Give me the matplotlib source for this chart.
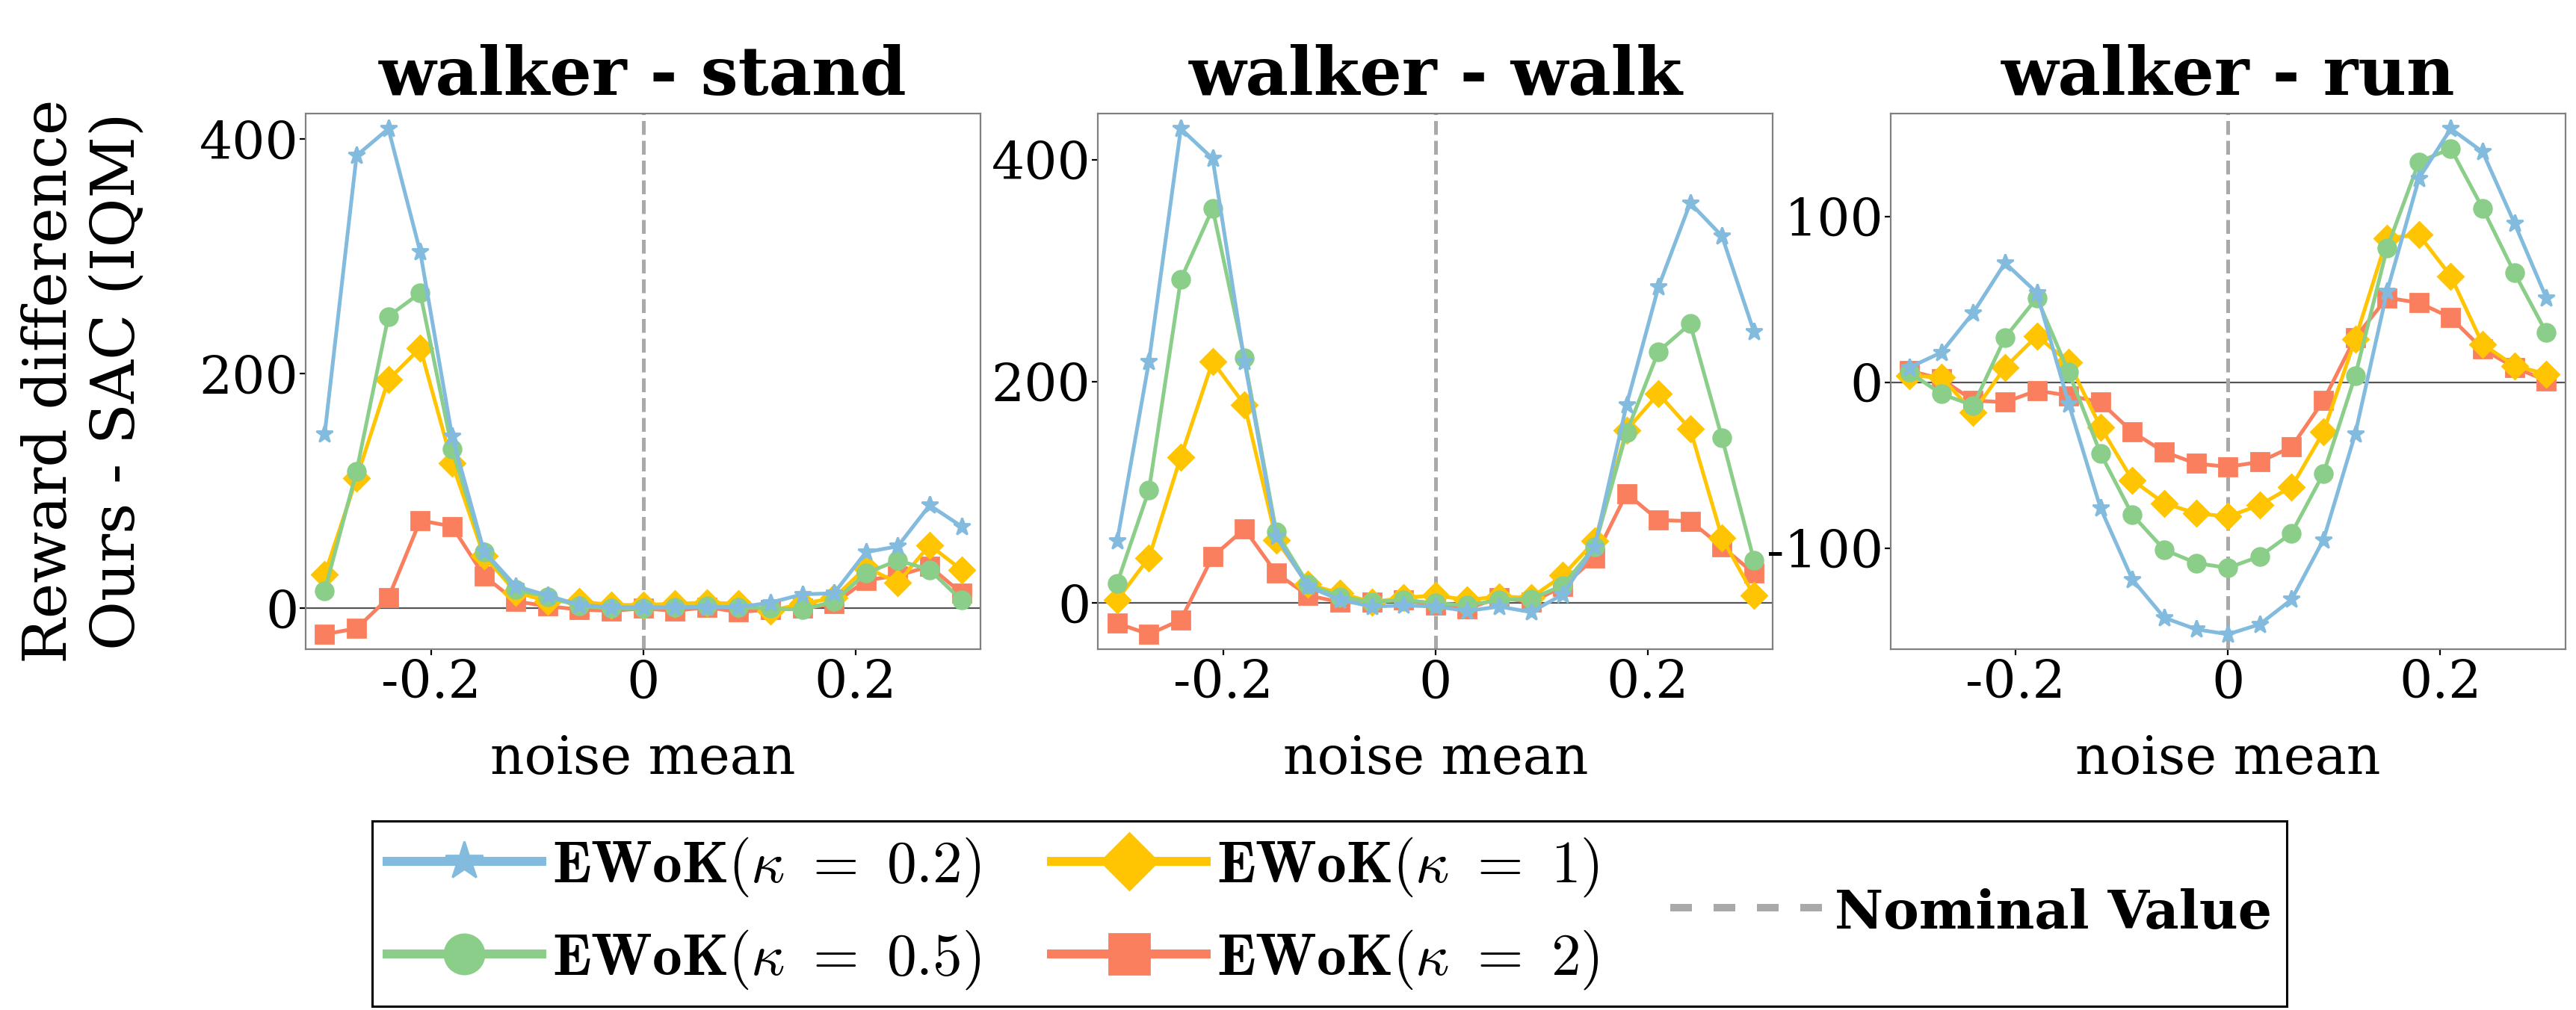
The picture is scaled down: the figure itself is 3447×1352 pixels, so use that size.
import matplotlib.pyplot as plt
from matplotlib.lines import Line2D

plt.rcParams['font.family'] = 'DejaVu Serif'
plt.rcParams['mathtext.fontset'] = 'cm'
plt.rcParams['axes.unicode_minus'] = False

noise_mean = [-0.30, -0.27, -0.24, -0.21, -0.18, -0.15, -0.12, -0.09, -0.06, -0.03, 0.0,
              0.03, 0.06, 0.09, 0.12, 0.15, 0.18, 0.21, 0.24, 0.27, 0.30]

tasks = ['walker - stand', 'walker - walk', 'walker - run']

# reward difference (IQM), one list per kappa
stand_k02 = [149, 386, 409, 304, 147, 49, 19, 11, 3, 1, 1, 1, 1, 1, 5, 12, 13, 48, 53, 88, 70]
stand_k05 = [15, 117, 249, 269, 136, 48, 16, 10, 2, 0, 0, 1, 2, 1, 0, -1, 6, 30, 41, 33, 7]
stand_k1 = [29, 111, 195, 222, 124, 45, 14, 6, 6, 3, 3, 4, 5, 4, -2, 4, 9, 35, 22, 54, 33]
stand_k2 = [-22, -17, 9, 75, 70, 28, 6, 2, -1, -2, 0, -2, 1, -3, -1, 0, 4, 24, 28, 36, 13]

walk_k02 = [56, 218, 428, 401, 218, 60, 15, 3, -3, -2, -3, -7, -3, -8, 8, 51, 179, 285, 361, 331, 245]
walk_k05 = [18, 102, 292, 356, 221, 64, 17, 6, 1, 3, 0, -2, 3, 4, 16, 51, 154, 227, 252, 149, 39]
walk_k1 = [3, 41, 132, 218, 179, 57, 17, 9, 1, 5, 7, 3, 6, 5, 25, 56, 156, 189, 157, 59, 7]
walk_k2 = [-18, -28, -15, 42, 67, 27, 7, 1, 1, 3, -2, -5, 5, 1, 15, 41, 99, 75, 74, 51, 27]

run_k02 = [9, 18, 42, 72, 54, -13, -76, -119, -142, -149, -152, -146, -131, -95, -31, 55, 123, 153, 139, 96, 51]
run_k05 = [6, -7, -14, 27, 51, 6, -43, -80, -101, -109, -112, -105, -91, -55, 4, 81, 133, 141, 105, 66, 30]
run_k1 = [4, 3, -18, 9, 28, 12, -27, -59, -73, -79, -81, -74, -63, -30, 26, 87, 89, 64, 23, 10, 5]
run_k2 = [7, 2, -11, -12, -5, -8, -12, -30, -42, -49, -51, -48, -39, -11, 27, 51, 48, 39, 20, 9, 1]

panel_data = [
    [stand_k02, stand_k05, stand_k1, stand_k2],
    [walk_k02, walk_k05, walk_k1, walk_k2],
    [run_k02, run_k05, run_k1, run_k2],
]
yticks = [[0, 200, 400], [0, 200, 400], [-100, 0, 100]]

labels = [r'$\mathbf{EWoK}(\kappa\ =\ 0.2)$', r'$\mathbf{EWoK}(\kappa\ =\ 0.5)$',
          r'$\mathbf{EWoK}(\kappa\ =\ 1)$', r'$\mathbf{EWoK}(\kappa\ =\ 2)$']
nominal_label = 'Nominal Value'
colors = ['#82bbdd', '#8ace89', '#ffc502', '#fa7f5f']
markers = ['*', 'o', 'D', 's']

fig = plt.figure(figsize=(17.24, 6.76), dpi=200)
axes = fig.subplots(1, 3)
fig.subplots_adjust(left=0.1186, right=0.9956, bottom=0.357, top=0.8876, wspace=0.174)

handles = []
for p, ax in enumerate(axes):
    ax.axhline(0, color='#555555', lw=0.8, zorder=1.5)
    ax.axvline(0, color='darkgray', ls='--', lw=1.8, zorder=2)
    for i in range(4):
        ln, = ax.plot(noise_mean, panel_data[p][i], color=colors[i], marker=markers[i],
                      markersize=8.5, lw=1.8, zorder=6 - i)
        if p == 0:
            handles.append(ln)
    ax.margins(0.03)
    ax.set_title(tasks[p], fontsize=32, fontweight='bold', pad=9)
    ax.set_xticks([-0.2, 0, 0.2], ['-0.2', '0', '0.2'])
    ax.set_yticks(yticks[p])
    ax.tick_params(axis='both', labelsize=25, length=3, width=0.8)
    ax.tick_params(axis='x', pad=1.5)
    ax.tick_params(axis='y', pad=0.5)
    ax.set_xlabel('noise mean', fontsize=25.5, labelpad=12)
    for s in ax.spines.values():
        s.set_color('#808080')
        s.set_linewidth(0.8)

axes[0].set_ylabel('Reward difference\nOurs - SAC (IQM)', fontsize=29)
axes[0].yaxis.set_label_coords(-0.235, 0.5)

handles.append(Line2D([], [], color='darkgray', ls='--', lw=3.6))
leg = fig.legend(handles, labels + [nominal_label], loc='center', bbox_to_anchor=(0.516, 0.0955),
                 ncol=3, prop={'size': 28.5}, frameon=True, fancybox=False,
                 edgecolor='black', framealpha=1, markerscale=2.25, handlelength=2.62,
                 handletextpad=0.17, columnspacing=1.2, labelspacing=0.5, borderpad=0.25)
leg.get_frame().set_linewidth(1.1)
leg._legend_handle_box.align = 'center'
for h in leg.legend_handles[:4]:
    h.set_linewidth(4.3)
leg.legend_handles[4].set_linestyle((0, (2.9, 2.9)))
nom_text = leg.get_texts()[4]
nom_text.set_fontsize(25.7)
nom_text.set_fontweight('bold')

fig.savefig('out.png', dpi=200)
